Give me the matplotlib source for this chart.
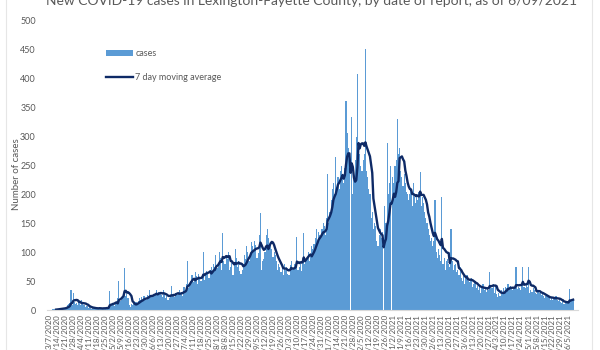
"""Daily new COVID-19 cases in Lexington-Fayette County with a 7-day moving average."""

import matplotlib

matplotlib.use("Agg")
import matplotlib.pyplot as plt
import numpy as np
import pandas as pd
from matplotlib.lines import Line2D

plt.rcParams["font.family"] = ["Lato", "DejaVu Sans"]

START = "2020-03-07"
TITLE = "New COVID-19 cases in Lexington-Fayette County, by date of report, as of 6/09/2021"

# daily reported cases, one row per week (Sat..Fri), starting 3/7/2020
cases = [
    0, 0, 0, 1, 1, 2, 1,
    1, 2, 2, 3, 2, 4, 3,
    4, 6, 8, 10, 12, 35, 9,
    30, 14, 10, 12, 8, 16, 9,
    18, 12, 8, 9, 6, 7, 4,
    5, 3, 2, 4, 3, 4, 2,
    3, 2, 4, 3, 2, 3, 4,
    2, 5, 4, 6, 33, 10, 8,
    9, 7, 14, 12, 20, 51, 15,
    18, 22, 30, 72, 25, 28, 20,
    8, 6, 10, 9, 12, 8, 14,
    12, 16, 20, 18, 22, 15, 25,
    20, 18, 26, 24, 35, 22, 25,
    24, 28, 30, 34, 26, 32, 30,
    26, 22, 34, 30, 20, 25, 18,
    20, 24, 42, 26, 28, 22, 30,
    26, 30, 35, 28, 32, 25, 40,
    30, 45, 84, 38, 46, 50, 60,
    48, 52, 66, 58, 45, 62, 55,
    50, 58, 101, 52, 60, 68, 62,
    55, 70, 75, 68, 80, 74, 96,
    72, 80, 100, 90, 70, 133, 85,
    80, 95, 88, 100, 70, 75, 82,
    60, 78, 105, 90, 75, 85, 68,
    62, 70, 80, 96, 88, 110, 100,
    85, 95, 118, 110, 100, 120, 112,
    90, 98, 130, 167, 70, 85, 88,
    100, 130, 140, 125, 110, 115, 105,
    92, 100, 95, 85, 70, 80, 75,
    65, 72, 60, 80, 70, 75, 62,
    60, 78, 85, 70, 72, 80, 75,
    126, 70, 75, 80, 68, 85, 133,
    80, 88, 92, 100, 85, 95, 110,
    105, 115, 125, 140, 120, 135, 130,
    125, 140, 150, 145, 130, 160, 235,
    150, 170, 190, 210, 220, 200, 265,
    205, 230, 210, 240, 250, 235, 220,
    245, 361, 306, 280, 250, 0, 334,
    200, 230, 260, 300, 408, 290, 270,
    250, 240, 260, 270, 451, 240, 230,
    210, 200, 160, 170, 140, 150, 145,
    120, 110, 130, 140, 125, 135, 0,
    180, 150, 289, 200, 220, 250, 0,
    230, 220, 250, 260, 330, 270, 280,
    240, 230, 215, 235, 220, 205, 200,
    190, 200, 210, 180, 220, 195, 185,
    200, 190, 205, 239, 180, 195, 185,
    170, 160, 150, 140, 130, 120, 125,
    110, 120, 190, 100, 90, 105, 95,
    85, 196, 80, 90, 70, 85, 88,
    80, 75, 141, 85, 70, 78, 80,
    65, 70, 60, 75, 55, 50, 58,
    45, 55, 60, 50, 48, 52, 55,
    40, 45, 50, 38, 42, 35, 44,
    30, 40, 45, 35, 38, 32, 40,
    35, 66, 42, 38, 45, 30, 40,
    28, 22, 30, 25, 35, 28, 38,
    32, 40, 38, 45, 35, 42, 36,
    34, 40, 38, 75, 36, 40, 38,
    35, 42, 75, 40, 38, 45, 40,
    75, 30, 35, 32, 38, 34, 30,
    28, 32, 35, 30, 26, 28, 24,
    20, 24, 26, 22, 20, 18, 22,
    18, 22, 20, 24, 18, 16, 20,
    14, 12, 15, 10, 14, 12, 16,
    12, 37, 14, 16, 18,
]

dates = pd.date_range(START, periods=len(cases), freq="D")
series = pd.Series(cases, index=dates, dtype=float)
moving_avg = series.rolling(7).mean()

BAR_COLOR = "#5b9bd5"
LINE_COLOR = "#0e2a66"
TEXT_COLOR = "#595959"

fig = plt.figure(figsize=(6.0, 3.5), dpi=100)
ax = fig.add_axes([47 / 600, 1 - 310 / 350, 531 / 600, 289 / 350])

x = np.arange(len(cases))
bars = ax.bar(x, series.values, width=1.0, color=BAR_COLOR, linewidth=0)
(ma_line,) = ax.plot(x, moving_avg.values, color=LINE_COLOR, lw=1.7)

ax.set_xlim(-2, 463.3)
ax.set_ylim(0, 500)
ax.set_yticks(range(0, 501, 50))
ax.tick_params(axis="y", length=0, labelsize=6.5, labelcolor=TEXT_COLOR, pad=8)

ax.set_xticks(x[::7])
ax.set_xticklabels(
    [f"{d.month}/{d.day}/{d.year}" for d in dates[::7]],
    rotation=90,
    fontsize=5.8,
    color=TEXT_COLOR,
)
ax.tick_params(axis="x", length=0, pad=3)

for side in ("top", "right", "left"):
    ax.spines[side].set_visible(False)
ax.spines["bottom"].set_color("#d9d9d9")

ax.set_ylabel("Number of cases", fontsize=7, color=TEXT_COLOR)
ax.yaxis.set_label_coords(-26 / 531, 0.47)

fig.text(0.52, 1 - 5 / 350, TITLE, ha="center", va="baseline", fontsize=10, color=TEXT_COLOR)

leg = ax.legend(
    [bars, ma_line],
    ["cases", "7 day moving average"],
    loc="upper left",
    bbox_to_anchor=(0.095, 0.93),
    frameon=False,
    fontsize=6.5,
    handlelength=3.0,
    labelspacing=1.6,
    handletextpad=0.3,
)
for t in leg.get_texts():
    t.set_color(TEXT_COLOR)

# faint worksheet grid showing at the outer edges
for xf in (6 / 600, 592 / 600):
    fig.add_artist(Line2D([xf, xf], [0, 1], color="#e6e6e6", lw=0.8))

fig.savefig("out.png", dpi=100)
